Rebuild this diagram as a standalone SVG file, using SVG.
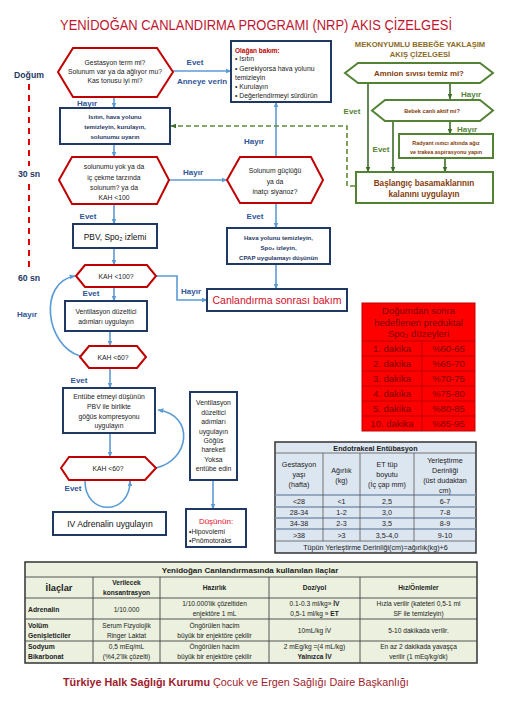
<svg xmlns="http://www.w3.org/2000/svg" width="510" height="721" viewBox="0 0 510 721">
<defs>
<style>
text{font-family:"Liberation Sans",Arial,sans-serif;}
.hex{fill:#fff;stroke:#C00000;stroke-width:2}
.box{fill:#fff;stroke:#1F3864;stroke-width:2}
.gbox{fill:#fff;stroke:#548235;stroke-width:2}
.con{fill:none;stroke:#5B9BD5;stroke-width:1.6;marker-end:url(#ab)}
.gcon{fill:none;stroke:#3E6B2A;stroke-width:1.6;marker-end:url(#ag)}
.gdash{fill:none;stroke:#5E8C3A;stroke-width:1.6;stroke-dasharray:5,3;marker-end:url(#ag)}
.lbl{font-weight:bold;fill:#2F5597;font-size:8px;text-anchor:middle}
.glbl{font-weight:bold;fill:#548235;font-size:8px;text-anchor:middle}
.c{text-anchor:middle}
.tx{fill:#222;font-size:6.8px}
.bt{fill:#1F3864;font-size:6.1px;font-weight:bold}
.br{fill:#843C0C;font-weight:bold}
.rt{fill:#7A0000;font-size:9.5px;text-anchor:middle}
.et{fill:#222;font-size:7.2px;text-anchor:middle}
.dt{fill:#222;font-size:6.6px;text-anchor:middle}
.dtb{fill:#222;font-size:6.8px;font-weight:bold}
</style>
<marker id="ab" viewBox="0 0 10 10" refX="9" refY="5" markerWidth="6" markerHeight="6" orient="auto" markerUnits="userSpaceOnUse"><path d="M0,1 L10,5 L0,9 z" fill="#5B9BD5"/></marker>
<marker id="ag" viewBox="0 0 10 10" refX="9" refY="5" markerWidth="6" markerHeight="6" orient="auto" markerUnits="userSpaceOnUse"><path d="M0,1 L10,5 L0,9 z" fill="#3E6B2A"/></marker>
</defs>
<rect width="510" height="721" fill="#fff"/>

<text x="256" y="29.5" font-size="14.5" fill="#C0162F" text-anchor="middle" textLength="392" lengthAdjust="spacingAndGlyphs">YENİDOĞAN CANLANDIRMA PROGRAMI (NRP) AKIS ÇİZELGESİ</text>

<g id="timeline">
<text x="29" y="78" font-size="8.7" font-weight="bold" fill="#1F3864" text-anchor="middle">Doğum</text>
<line x1="29" y1="84" x2="29" y2="166" stroke="#E00000" stroke-width="2" stroke-dasharray="6,5"/>
<text x="29" y="177" font-size="8.7" font-weight="bold" fill="#1F3864" text-anchor="middle">30 sn</text>
<line x1="29" y1="184" x2="29" y2="268" stroke="#E00000" stroke-width="2" stroke-dasharray="6,5"/>
<text x="29" y="281" font-size="8.7" font-weight="bold" fill="#1F3864" text-anchor="middle">60 sn</text>
</g>

<g id="connectors">
<line class="con" x1="173" y1="71" x2="231" y2="71"/>
<line class="con" x1="114" y1="97" x2="114" y2="108"/>
<line class="con" x1="114" y1="144" x2="114" y2="157"/>
<line class="con" x1="169" y1="180" x2="227" y2="180"/>
<line class="con" x1="276" y1="157" x2="276" y2="102"/>
<line class="con" x1="276" y1="203" x2="276" y2="228"/>
<line class="con" x1="114" y1="204" x2="114" y2="224"/>
<line class="con" x1="114" y1="248" x2="114" y2="265"/>
<line class="con" x1="276" y1="264" x2="276" y2="289"/>
<path class="con" d="M156,276 H177 V300 H207"/>
<line class="con" x1="114" y1="287" x2="114" y2="301"/>
<line class="con" x1="110" y1="331" x2="110" y2="346"/>
<path class="con" d="M80,356 C45,345 38,282 75,276"/>
<line class="con" x1="110" y1="368" x2="110" y2="388"/>
<line class="con" x1="110" y1="433" x2="110" y2="457"/>
<path class="con" d="M156,468 C190,460 195,415 158,410"/>
<path class="con" d="M85,481 C85,516 130,516 130,481"/>
<line class="con" x1="213" y1="480" x2="213" y2="509"/>
<line class="gcon" x1="368" y1="83" x2="368" y2="172"/>
<line class="gcon" x1="393" y1="121" x2="393" y2="172"/>
<line class="gcon" x1="450" y1="83" x2="450" y2="99"/>
<line class="gcon" x1="450" y1="121" x2="450" y2="134"/>
<line class="gcon" x1="445" y1="158" x2="445" y2="172"/>
<path class="gdash" d="M355,186 H347 V126 H171"/>
<text class="lbl" x="195" y="65">Evet</text>
<text class="lbl" x="202" y="84">Anneye verin</text>
<text class="lbl" x="87" y="106">Hayır</text>
<text class="lbl" x="193" y="175">Hayır</text>
<text class="lbl" x="254" y="144">Hayır</text>
<text class="lbl" x="88" y="219">Evet</text>
<text class="lbl" x="255" y="219">Evet</text>
<text class="lbl" x="191" y="294">Hayır</text>
<text class="lbl" x="91" y="296" font-size="7">Evet</text>
<text class="lbl" x="27" y="317">Hayır</text>
<text class="lbl" x="79" y="383">Evet</text>
<text class="lbl" x="73" y="491">Evet</text>
<text class="glbl" x="352" y="114">Evet</text>
<text class="glbl" x="381" y="152">Evet</text>
<text class="glbl" x="471" y="97">Hayır</text>
<text class="glbl" x="467" y="132">Hayır</text>
</g>

<g id="n-gestasyon">
<polygon class="hex" points="58,72 73,48 157,48 173,72 157,97 73,97"/>
<text class="tx c" x="115" y="64.5">Gestasyon term mi?</text>
<text class="tx c" x="115" y="73.5">Solunum var  ya da  ağlıyor mu?</text>
<text class="tx c" x="115" y="82.5">Kas tonusu iyi mi?</text>
</g>

<g id="n-olagan">
<rect class="box" x="231" y="41" width="100" height="61"/>
<text x="235" y="53" font-size="6.5" font-weight="bold" fill="#C00000">Olağan bakım:</text>
<text class="tx" x="235" y="61" font-size="6.3">• Isıtın</text>
<text class="tx" x="235" y="70.5" font-size="6.3">• Gerekiyorsa hava yolunu</text>
<text class="tx" x="235" y="79.5" font-size="6.3">temizleyin</text>
<text class="tx" x="235" y="89" font-size="6.3">• Kurulayın</text>
<text class="tx" x="235" y="98" font-size="6.3">• Değerlendirmeyi sürdürün</text>
</g>

<g id="n-isitin">
<rect class="box" x="60" y="108" width="110" height="36"/>
<text class="bt c" x="115" y="119">Isıtın, hava yolunu</text>
<text class="bt c" x="115" y="129">temizleyin, kurulayın,</text>
<text class="bt c" x="115" y="139">solunumu uyarın</text>
</g>

<g id="n-solunum-yok">
<polygon class="hex" points="59,180 72,157 157,157 169,180 157,204 72,204"/>
<text class="tx c" x="114" y="168.5">solunumu yok ya da</text>
<text class="tx c" x="114" y="179.5">iç çekme tarzında</text>
<text class="tx c" x="114" y="189.5">solunum? ya da</text>
<text class="tx c" x="114" y="199.5">KAH &lt;100</text>
</g>

<g id="n-solunum-guclugu">
<polygon class="hex" points="227,180 240,157 311,157 323,180 311,203 240,203"/>
<text class="tx c" x="275" y="172.5">Solunum güçlüğü</text>
<text class="tx c" x="275" y="183.5">ya da</text>
<text class="tx c" x="275" y="193.5">inatçı siyanoz?</text>
</g>

<g id="n-pbv">
<rect class="box" x="73" y="224" width="84" height="24"/>
<text x="115" y="240" font-size="8.4" fill="#111" text-anchor="middle">PBV, Spo₂ izlemi</text>
</g>

<g id="n-cpap">
<rect class="box" x="227" y="228" width="103" height="36"/>
<text class="bt c" x="278.5" y="240">Hava yolunu temizleyin,</text>
<text class="bt c" x="278.5" y="250">Spo₂ izleyin,</text>
<text class="bt c" x="278.5" y="260">CPAP uygulamayı düşünün</text>
</g>

<g id="n-kah100">
<polygon class="hex" points="76,276 85,265 147,265 156,276 147,287 85,287"/>
<text class="tx c" x="116" y="279" font-size="7.8">KAH &lt;100?</text>
</g>

<g id="n-canlandirma">
<rect class="box" x="207" y="289" width="140" height="22"/>
<text x="277" y="304" font-size="10.5" fill="#D0102A" text-anchor="middle">Canlandırma sonrası bakım</text>
</g>

<g id="n-ventilasyon1">
<rect class="box" x="65" y="301" width="82" height="30"/>
<text class="tx c" x="106" y="314" font-size="6.2">Ventilasyon düzeltici</text>
<text class="tx c" x="106" y="324" font-size="6.2">adımları uygulayın</text>
</g>

<g id="n-kah60a">
<polygon class="hex" points="80,357 89,346 137,346 146,357 137,368 89,368"/>
<text class="tx c" x="113" y="360" font-size="6.8">KAH &lt;60?</text>
</g>

<g id="n-entube">
<rect class="box" x="63" y="388" width="92" height="45"/>
<text class="tx c" x="109" y="399" font-size="6.6">Entübe etmeyi düşünün</text>
<text class="tx c" x="109" y="409" font-size="6.6">PBV ile birlikte</text>
<text class="tx c" x="109" y="418.5" font-size="6.6">göğüs kompresyonu</text>
<text class="tx c" x="109" y="428" font-size="6.6">uygulayın</text>
</g>

<g id="n-kah60b">
<polygon class="hex" points="61,468 69,457 145,457 156,468 145,480 69,480"/>
<text class="tx c" x="108" y="471" font-size="6.8">KAH &lt;60?</text>
</g>

<g id="n-adrenalin">
<rect class="box" x="53" y="512" width="113" height="23"/>
<text x="110" y="527" font-size="8.6" fill="#111" text-anchor="middle">IV Adrenalin uygulayın</text>
</g>

<g id="n-ventilasyon2">
<rect class="box" x="190" y="392" width="47" height="88"/>
<text class="tx c" x="213.5" y="405" font-size="6.4">Ventilasyon</text>
<text class="tx c" x="213.5" y="415" font-size="6.4">düzeltici</text>
<text class="tx c" x="213.5" y="424" font-size="6.4">adımları</text>
<text class="tx c" x="213.5" y="434" font-size="6.4">uygulayın</text>
<text class="tx c" x="213.5" y="443" font-size="6.4">Göğüs</text>
<text class="tx c" x="213.5" y="452" font-size="6.4">hareketi</text>
<text class="tx c" x="213.5" y="462" font-size="6.4">Yoksa</text>
<text class="tx c" x="213.5" y="471" font-size="6.4">entübe edin</text>
</g>

<g id="n-dusunun">
<rect class="box" x="186" y="509" width="60" height="38"/>
<text x="216" y="524" font-size="8" fill="#E0102A" text-anchor="middle">Düşünün:</text>
<text class="tx" x="189" y="533.5" font-size="6.6">•Hipovolemi</text>
<text class="tx" x="189" y="542.5" font-size="6.6">•Pnömotoraks</text>
</g>

<g id="mekonyum-title">
<text x="420" y="47" font-size="7.6" font-weight="bold" fill="#8A6A1E" text-anchor="middle">MEKONYUMLU BEBEĞE YAKLAŞIM</text>
<text x="420" y="57" font-size="7.6" font-weight="bold" fill="#8A6A1E" text-anchor="middle">AKIŞ ÇİZELGESİ</text>
</g>

<g id="n-amnion">
<polygon class="gbox" points="345,73 358,63 480,63 493,73 480,83 358,83"/>
<text class="br c" x="419" y="76" font-size="7.9">Amnion sıvısı temiz mi?</text>
</g>

<g id="n-bebek">
<polygon class="gbox" points="372,110.5 385,100 480,100 493,110.5 480,121 385,121"/>
<text class="br c" x="432" y="113" font-size="5.6">Bebek canlı aktif mi?</text>
</g>

<g id="n-radyant">
<rect class="gbox" x="399" y="134" width="94" height="24"/>
<text class="br c" x="446" y="145" font-size="5.4">Radyant ısıtıcı altında ağız</text>
<text class="br c" x="446" y="154" font-size="5.4">ve trakea aspirasyonu yapın</text>
</g>

<g id="n-baslangic">
<rect class="gbox" x="356" y="172" width="137" height="31"/>
<text class="br c" x="424" y="186" font-size="8.2">Başlangıç basamaklarının</text>
<text class="br c" x="424" y="197" font-size="8.2">kalanını uygulayın</text>
</g>

<g id="spo2-table">
<rect x="362" y="303" width="113" height="128" fill="#FF0000" stroke="#C00000" stroke-width="1"/>
<g stroke="#C00000" stroke-width="1">
<line x1="362" y1="341" x2="475" y2="341"/>
<line x1="362" y1="356" x2="475" y2="356"/>
<line x1="362" y1="371" x2="475" y2="371"/>
<line x1="362" y1="386" x2="475" y2="386"/>
<line x1="362" y1="401" x2="475" y2="401"/>
<line x1="362" y1="416" x2="475" y2="416"/>
<line x1="422" y1="341" x2="422" y2="431"/>
</g>
<text class="rt" x="418.5" y="314" font-size="8.8">Doğumdan sonra</text>
<text class="rt" x="418.5" y="326" font-size="8.8">hedeflenen preduktal</text>
<text class="rt" x="418.5" y="337" font-size="8.8">Spo₂ düzeyleri</text>
<text class="rt" x="392" y="352">1. dakika</text><text class="rt" x="448.5" y="352">%60-65</text>
<text class="rt" x="392" y="367">2. dakika</text><text class="rt" x="448.5" y="367">%65-70</text>
<text class="rt" x="392" y="382">3. dakika</text><text class="rt" x="448.5" y="382">%70-75</text>
<text class="rt" x="392" y="397">4. dakika</text><text class="rt" x="448.5" y="397">%75-80</text>
<text class="rt" x="392" y="412">5. dakika</text><text class="rt" x="448.5" y="412">%80-85</text>
<text class="rt" x="392" y="427">10. dakika</text><text class="rt" x="448.5" y="427">%85-95</text>
</g>

<g id="endo-table">
<rect x="275" y="442" width="201" height="111" fill="#DCE6F1" stroke="#333" stroke-width="1.5"/>
<g stroke="#555" stroke-width="0.8">
<line x1="275" y1="453" x2="476" y2="453"/>
<line x1="275" y1="495" x2="476" y2="495" stroke="#7F93AE" stroke-width="1.4"/>
<line x1="275" y1="507" x2="476" y2="507" stroke="#7F93AE" stroke-width="1.4"/>
<line x1="275" y1="518" x2="476" y2="518" stroke="#7F93AE" stroke-width="1.4"/>
<line x1="275" y1="529" x2="476" y2="529" stroke="#7F93AE" stroke-width="1.4"/>
<line x1="275" y1="541" x2="476" y2="541"/>
<line x1="323" y1="453" x2="323" y2="541"/>
<line x1="360" y1="453" x2="360" y2="541"/>
<line x1="414" y1="453" x2="414" y2="541"/>
</g>
<text class="et" x="375.5" y="450.5" font-weight="bold" font-size="6.8">Endotrakeal Entübasyon</text>
<text class="et" x="299" y="466.5">Gestasyon</text>
<text class="et" x="299" y="476.5">yaşı</text>
<text class="et" x="299" y="486.5">(hafta)</text>
<text class="et" x="341.5" y="472.5">Ağırlık</text>
<text class="et" x="341.5" y="482.5">(kg)</text>
<text class="et" x="387" y="466.5">ET tüp</text>
<text class="et" x="387" y="476.5">boyutu</text>
<text class="et" x="387" y="486.5">(İç çap mm)</text>
<text class="et" x="445" y="462.5">Yerleştirme</text>
<text class="et" x="445" y="472.5">Derinliği</text>
<text class="et" x="445" y="482.5">(üst dudaktan</text>
<text class="et" x="445" y="492.5">cm)</text>
<text class="et" x="299" y="503.5">&lt;28</text><text class="et" x="341.5" y="503.5">&lt;1</text><text class="et" x="387" y="503.5">2,5</text><text class="et" x="445" y="503.5">6-7</text>
<text class="et" x="299" y="515">28-34</text><text class="et" x="341.5" y="515">1-2</text><text class="et" x="387" y="515">3,0</text><text class="et" x="445" y="515">7-8</text>
<text class="et" x="299" y="526">34-38</text><text class="et" x="341.5" y="526">2-3</text><text class="et" x="387" y="526">3,5</text><text class="et" x="445" y="526">8-9</text>
<text class="et" x="299" y="537.5">&gt;38</text><text class="et" x="341.5" y="537.5">&gt;3</text><text class="et" x="387" y="537.5">3,5-4,0</text><text class="et" x="445" y="537.5">9-10</text>
<text class="et" x="375.5" y="549.5" font-size="6.9">Tüpün Yerleştirme Derinliği(cm)=ağırlık(kg)+6</text>
</g>

<g id="drug-table">
<rect x="25" y="562" width="452" height="101" fill="#EBF1DE" stroke="#333" stroke-width="1.5"/>
<g stroke="#444" stroke-width="0.9">
<line x1="25" y1="577" x2="477" y2="577"/>
<line x1="25" y1="598" x2="477" y2="598"/>
<line x1="25" y1="619" x2="477" y2="619"/>
<line x1="25" y1="641" x2="477" y2="641"/>
<line x1="93" y1="577" x2="93" y2="663"/>
<line x1="160" y1="577" x2="160" y2="663"/>
<line x1="269" y1="577" x2="269" y2="663"/>
<line x1="360" y1="577" x2="360" y2="663"/>
</g>
<text x="250" y="572.5" font-size="8" font-weight="bold" fill="#222" text-anchor="middle">Yenidoğan Canlandırmasında kullanılan ilaçlar</text>
<text x="59" y="591" font-size="9.3" font-weight="bold" fill="#222" text-anchor="middle">İlaçlar</text>
<text class="dt" x="126.5" y="585" font-weight="bold" font-size="6.8">Verilecek</text>
<text class="dt" x="126.5" y="594.5" font-weight="bold" font-size="6.8">konsantrasyon</text>
<text class="dt" x="214.5" y="590" font-weight="bold">Hazırlık</text>
<text class="dt" x="314.5" y="590" font-weight="bold">Doz/yol</text>
<text class="dt" x="418.5" y="590" font-weight="bold">Hız/Önlemler</text>

<text class="dtb" x="28" y="611.5">Adrenalin</text>
<text class="dt" x="126.5" y="611.5">1/10.000</text>
<text class="dt" x="214.5" y="606">1/10.000'lik çözeltiden</text>
<text class="dt" x="214.5" y="616">enjektöre 1 mL</text>
<text class="dt" x="314.5" y="606">0.1-0.3 ml/kg» <tspan font-weight="bold">İV</tspan></text>
<text class="dt" x="314.5" y="616">0,5-1 ml/kg » <tspan font-weight="bold">ET</tspan></text>
<text class="dt" x="418.5" y="606">Hızla verilir  (kateteri  0,5-1 ml</text>
<text class="dt" x="418.5" y="616">SF ile temizleyin)</text>

<text class="dtb" x="28" y="627.5">Volüm</text>
<text class="dtb" x="28" y="637.5">Genişleticiler</text>
<text class="dt" x="126.5" y="627.5">Serum Fizyolojik</text>
<text class="dt" x="126.5" y="637.5">Ringer Laktat</text>
<text class="dt" x="214.5" y="627.5">Öngörülen hacim</text>
<text class="dt" x="214.5" y="637.5">büyük bir enjektöre çekilir</text>
<text class="dt" x="314.5" y="632.5">10mL/kg İV</text>
<text class="dt" x="418.5" y="632.5">5-10 dakikada verilir.</text>

<text class="dtb" x="28" y="648.5">Sodyum</text>
<text class="dtb" x="28" y="658.5">Bikarbonat</text>
<text class="dt" x="126.5" y="648.5">0,5 mEq/mL</text>
<text class="dt" x="126.5" y="658.5">(%4,2'lik çözelti)</text>
<text class="dt" x="214.5" y="648.5">Öngörülen hacim</text>
<text class="dt" x="214.5" y="658.5">büyük bir enjektöre çekilir</text>
<text class="dt" x="314.5" y="648.5">2 mEg/kg =(4 mL/kg)</text>
<text class="dt" x="314.5" y="658.5" font-weight="bold">Yalnızca İV</text>
<text class="dt" x="418.5" y="648.5">En az 2 dakikada yavaşça</text>
<text class="dt" x="418.5" y="658.5">verilir (1 mEq/kg/dk)</text>
</g>

<text x="63" y="686" font-size="10.8" fill="#A01C2C"><tspan font-weight="bold">Türkiye Halk Sağlığı Kurumu</tspan> Çocuk ve Ergen Sağlığı Daire Başkanlığı</text>
</svg>
